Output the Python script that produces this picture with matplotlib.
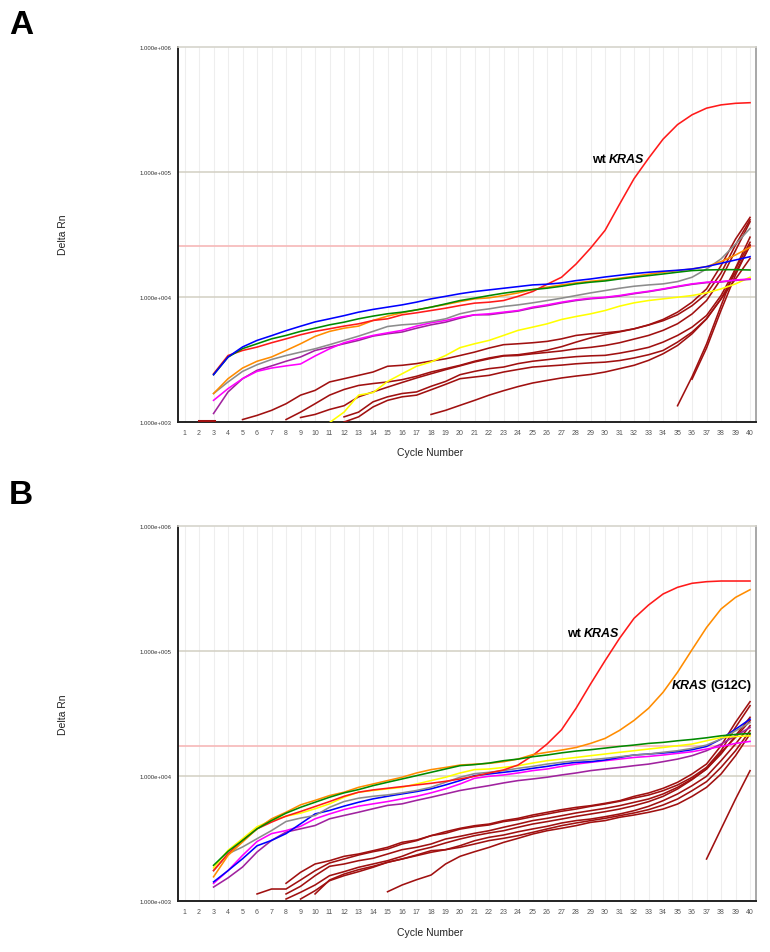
import numpy as np
import matplotlib
matplotlib.use('Agg')
import matplotlib.pyplot as plt
from matplotlib.ticker import FixedLocator, NullLocator

plt.rcParams['font.family'] = ['Liberation Sans', 'DejaVu Sans']

# Delta Rn, one value per cycle (start cycle given below)

# ---- panel A ----
blue_a = [2390, 3310, 3980, 4490, 4900, 5370, 5830, 6310, 6680, 7080, 7550, 7940, 8280, 8630, 9080, 9640, 10100, 10600, 11030,
          11370, 11720, 12080, 12460, 12620, 12930, 13490, 13900, 14420, 14880, 15350, 15730, 16030, 16320, 16710, 17450, 18540, 19720, 20950]
green_a = [2390, 3300, 3860, 4220, 4620, 4920, 5300, 5620, 5980, 6280, 6680, 7020, 7330, 7550, 7870, 8280, 8790, 9350, 9770,
           10240, 10700, 11100, 11430, 11730, 12160, 12700, 13100, 13400, 13900, 14350, 14790, 15240, 15740, 16220, 16410, 16500, 16500, 16400]
red_a = [2430, 3400, 3730, 3970, 4300, 4620, 4980, 5300, 5560, 5840, 6090, 6480, 6680, 7190, 7460, 7780, 8120, 8530, 8910,
         9070, 9350, 10100, 11030, 12600, 14350, 18300, 24500, 34000, 55000, 88000, 128000, 182000, 238000, 285000, 322000, 342000, 352000, 356000]
orange_a = [1690, 2220, 2700, 3060, 3310, 3730, 4220, 4830, 5300, 5620, 5840, 6480, 7020, 7460, 7870, 8280, 8690, 9180, 9640,
            9820, 10250, 10760, 11440, 11950, 12460, 12930, 13330, 13650, 14090, 14620, 15170, 15730, 16220, 16710, 17450, 19120, 21620, 24890]
grey_a = [1690, 2090, 2540, 2870, 3160, 3400, 3620, 3850, 4150, 4490, 4860, 5300, 5800, 5980, 6090, 6350, 6680, 7330, 7750,
          8020, 8380, 8630, 8960, 9350, 9760, 10250, 10760, 11230, 11720, 12160, 12460, 12700, 13250, 14350, 16710, 20100, 26400, 35200]
magenta_a = [1490, 1850, 2220, 2540, 2700, 2810, 2910, 3370, 3850, 4300, 4620, 4920, 5160, 5400, 5840, 6210, 6480, 6890, 7190,
             7320, 7550, 7780, 8280, 8630, 9070, 9460, 9760, 9940, 10250, 10700, 11090, 11580, 12160, 12700, 13100, 13250, 13650, 13900]
purple_a = [1170, 1740, 2220, 2590, 2810, 3060, 3310, 3730, 3970, 4220, 4490, 4860, 5070, 5240, 5620, 5980, 6280, 6760, 7190,
            7200, 7450, 7700, 8150, 8500, 8950, 9350, 9650, 9850, 10150, 10600, 11000, 11500, 12050, 12600, 13000, 13150, 13550, 13800]
yellow_a = [990, 1200, 1640, 1720, 2110, 2430, 2790, 3020, 3400, 3930, 4220,
            4490, 4920, 5400, 5730, 6090, 6600, 6970, 7320, 7780, 8430, 8960, 9350, 9640, 9940, 10250, 10760, 11580, 12700, 14350]
darkred_a0 = [1012, 1012]
darkred_a1 = [1047, 1130, 1240, 1400, 1640, 1790, 2090, 2220, 2360, 2510, 2790, 2840, 2930, 3070, 3200, 3400, 3620,
              3900, 4150, 4220, 4300, 4410, 4620, 4920, 5070, 5160, 5300, 5560, 5980, 6600, 7550, 9070, 11580, 17780, 28970, 43150]
darkred_a2 = [1047, 1200, 1400, 1640, 1820, 1960, 2030, 2090, 2180, 2320, 2510, 2670, 2840, 3060, 3250, 3400, 3450, 3580,
              3750, 4000, 4350, 4700, 5000, 5250, 5550, 5950, 6450, 7200, 8500, 10600, 15500, 26000, 41300]
darkred_a3 = [1087, 1150, 1260, 1350, 1590, 1740, 1900, 2070, 2250, 2430, 2620, 2810, 3020, 3200, 3370, 3400, 3510,
              3600, 3700, 3850, 3950, 4090, 4300, 4600, 4920, 5400, 6100, 7300, 9350, 13900, 23500, 39800]
darkred_a4 = [1100, 1200, 1450, 1590, 1690, 1740, 1930, 2110, 2390, 2540, 2670, 2750, 2930, 3060,
              3150, 3250, 3330, 3380, 3410, 3550, 3730, 3950, 4350, 4920, 5730, 7100, 10250, 16700, 27300]
darkred_a5 = [1000, 1100, 1320, 1490, 1590, 1640, 1810, 2000, 2220, 2290, 2360, 2510, 2630, 2750,
              2800, 2850, 2920, 2970, 3010, 3100, 3250, 3450, 3730, 4350, 5230, 6680, 9640, 15700, 25700]
darkred_a6 = [1150, 1240, 1360, 1490, 1640, 1780, 1920, 2050, 2150, 2250, 2330, 2400, 2510, 2670, 2840, 3110, 3510,
              4090, 5070, 6680, 9640, 13900, 20300]
darkred_a7 = [1350, 2300, 4200, 8500, 17000, 30000]
darkred_a8 = [2200, 3900, 7800, 15000, 26000]

# ---- panel B ----
green_b = [1940, 2510, 3070, 3800, 4430, 5070, 5650, 6200, 6800, 7370, 7830, 8420, 8960, 9520, 10120, 10760, 11440, 12160, 12400,
           12760, 13330, 13730, 14340, 14800, 15400, 15920, 16320, 16810, 17330, 17780, 18330, 18680, 19240, 19720, 20330, 21090, 21630, 22020]
orange_b = [1570, 2330, 2980, 3800, 4570, 5160, 5910, 6420, 7010, 7460, 8160, 8680, 9240, 9830, 10630, 11310, 11770, 12300, 12500,
            12700, 13090, 13730, 14890, 15560, 16210, 17000, 18330, 20090, 23300, 28000, 35000, 47000, 68000, 103000, 155000, 218000, 270000, 311000]
red_b = [1760, 2400, 3070, 3800, 4300, 4800, 5230, 5730, 6280, 6920, 7460, 7780, 8020, 8270, 8530, 8790, 9120, 9520, 10000,
         10630, 11240, 12310, 14620, 18110, 23570, 35000, 54750, 84100, 127000, 183600, 234500, 287300, 325000, 350000, 360500, 365000, 365000, 365000]
yellow_b = [1850, 2560, 3170, 3950, 4430, 4800, 5070, 5500, 6020, 6800, 7460, 7700, 7940, 8170, 8680, 9240, 9830, 10630, 11310,
            11440, 11770, 12160, 12760, 13330, 13730, 14150, 14620, 15070, 15560, 16020, 16520, 17000, 17550, 18110, 19240, 20460, 20800, 21090]
grey_b = [1760, 2400, 2720, 3170, 3680, 4350, 4630, 4860, 5650, 6280, 6680, 6920, 7100, 7370, 7700, 8170, 8960, 9830, 10500,
          10760, 11100, 11580, 12000, 12520, 12930, 13330, 13570, 13910, 14340, 14800, 15070, 15560, 16020, 16720, 17780, 19860, 23120, 26920]
blue_b = [1430, 1760, 2190, 2780, 3070, 3480, 4170, 5000, 5330, 5770, 6200, 6600, 6920, 7230, 7550, 7940, 8530, 9240, 10120,
          10440, 10760, 11100, 11580, 12000, 12520, 12930, 13090, 13500, 14150, 14800, 15070, 15360, 15730, 16320, 17330, 19860, 23800, 28650]
magenta_b = [1390, 1760, 2330, 3010, 3480, 3680, 3980, 4570, 5000, 5420, 5770, 6020, 6280, 6600, 6920, 7370, 7940, 8680, 9640,
             10000, 10250, 10630, 11100, 11440, 12000, 12520, 12930, 13330, 13730, 14150, 14420, 14800, 15260, 15730, 16520, 17330, 18330, 19020]
purple_b = [1300, 1540, 1880, 2480, 3070, 3580, 3800, 4040, 4570, 4860, 5160, 5500, 5850, 6020, 6420, 6800, 7230, 7700, 8060,
            8420, 8850, 9240, 9520, 9830, 10250, 10630, 11100, 11440, 11770, 12160, 12520, 13090, 13730, 14620, 16020, 18110, 21090, 24560]
darkred_b1 = [1145, 1254, 1254, 1480, 1757, 2025, 2180, 2346, 2493, 2620, 2873, 3054, 3350, 3605, 3835, 4025,
              4150, 4420, 4610, 4900, 5150, 5410, 5640, 5820, 6080, 6380, 6910, 7350, 8010, 8950, 10430, 12540, 17580, 27030, 39540]
darkred_b2 = [1393, 1706, 1988, 2113, 2290, 2390, 2540, 2704, 2964, 3093, 3350, 3500, 3780, 3950,
              4080, 4340, 4500, 4750, 4990, 5250, 5470, 5750, 6000, 6310, 6700, 7080, 7670, 8520, 9810, 11790, 16030, 24640, 36730]
darkred_b3 = [1145, 1318, 1603, 1905, 1988, 2113, 2208, 2390, 2588, 2704, 2873, 3150, 3311, 3500,
              3670, 3910, 4150, 4420, 4610, 4840, 5090, 5310, 5540, 5820, 6190, 6580, 7220, 8160, 9520, 11440, 15070, 21130, 29650]
darkred_b4 = [1043, 1180, 1350, 1603, 1726, 1871, 1988, 2113, 2290, 2540, 2704, 2929, 3150, 3350,
              3520, 3670, 3910, 4150, 4340, 4550, 4780, 4990, 5210, 5470, 5820, 6270, 6910, 7920, 9400, 11440, 15540, 20490, 27860]
darkred_b5 = [1043, 1216, 1462, 1603, 1726, 1871, 2051, 2180, 2346, 2540, 2588, 2786, 3050,
              3250, 3390, 3600, 3790, 3980, 4230, 4420, 4550, 4750, 4990, 5310, 5750, 6380, 7220, 8410, 10000, 13330, 18130, 25420]
darkred_b6 = [1145, 1480, 1652, 1790, 1905, 2051, 2180, 2317, 2466, 2588, 2704, 2873,
              3060, 3190, 3350, 3560, 3790, 4030, 4230, 4420, 4610, 4840, 5090, 5410, 5890, 6580, 7670, 9060, 11790, 16030, 23170]
darkred_b7 = [1193, 1350, 1488, 1622, 1988, 2290, 2493,
              2700, 2960, 3190, 3450, 3670, 3840, 4030, 4280, 4420, 4700, 4900, 5150, 5470, 6000, 6910, 8160, 10430, 14620, 21790]
darkred_b8 = [2180, 3790, 6580, 11090]

cycles = np.arange(1, 41)
y_ticks = [1e3, 1e4, 1e5, 1e6]
y_tick_labels = ['1.000e+003', '1.000e+004', '1.000e+005', '1.000e+006']
threshold_a = 25500
threshold_b = 17400

DARKRED = '#a01010'
BLUE = '#0000ff'
GREEN = '#008a00'
RED = '#ff1a1a'
ORANGE = '#ff8c00'
GREY = '#8c8c8c'
MAGENTA = '#ff00ff'
PURPLE = '#a0229f'
YELLOW = '#ffff00'

# (start cycle, values, colour) -- drawn in this order
curves_a = [
    (2, darkred_a0, DARKRED), (5, darkred_a1, DARKRED), (8, darkred_a2, DARKRED), (9, darkred_a3, DARKRED),
    (12, darkred_a4, DARKRED), (12, darkred_a5, DARKRED), (18, darkred_a6, DARKRED), (35, darkred_a7, DARKRED),
    (36, darkred_a8, DARKRED),
    (11, yellow_a, YELLOW), (3, purple_a, PURPLE), (3, magenta_a, MAGENTA), (3, grey_a, GREY),
    (3, orange_a, ORANGE), (3, red_a, RED), (3, green_a, GREEN), (3, blue_a, BLUE),
]
curves_b = [
    (6, darkred_b1, DARKRED), (8, darkred_b2, DARKRED), (8, darkred_b3, DARKRED), (8, darkred_b4, DARKRED),
    (9, darkred_b5, DARKRED), (10, darkred_b6, DARKRED), (15, darkred_b7, DARKRED), (37, darkred_b8, DARKRED),
    (3, purple_b, PURPLE), (3, magenta_b, MAGENTA), (3, blue_b, BLUE), (3, grey_b, GREY),
    (3, yellow_b, YELLOW), (3, red_b, RED), (3, orange_b, ORANGE), (3, green_b, GREEN),
]


def draw_panel(ax, curves, threshold):
    ax.set_yscale('log')
    ax.set_xlim(0.55, 40.41)
    ax.set_ylim(1e3, 1e6)

    for c in cycles:
        ax.axvline(c, color='#eeeeee', lw=0.8, zorder=0)
    for v in y_ticks[1:3]:
        ax.axhline(v, color='#d2cfc2', lw=1.1, zorder=1)
    ax.axhline(threshold, color='#f6b8b8', lw=1.2, zorder=1)

    for start, vals, col in curves:
        x = np.arange(start, start + len(vals))
        lw = 2.2 if len(vals) == 2 else 1.15
        ax.plot(x, vals, color=col, lw=lw, zorder=3, solid_joinstyle='round')

    ax.xaxis.set_major_locator(FixedLocator(cycles))
    ax.set_xticklabels([str(c) for c in cycles], fontsize=5, color='#555555')
    ax.yaxis.set_major_locator(FixedLocator(y_ticks))
    ax.yaxis.set_minor_locator(NullLocator())
    ax.set_yticklabels(y_tick_labels, fontsize=4.3, color='#333333')
    ax.tick_params(axis='both', length=0)
    ax.tick_params(axis='x', pad=5)
    ax.tick_params(axis='y', pad=4.5)

    ax.spines['left'].set_color('#222222')
    ax.spines['left'].set_linewidth(1.4)
    ax.spines['bottom'].set_color('#222222')
    ax.spines['bottom'].set_linewidth(1.4)
    ax.spines['top'].set_color('#d6d4cc')
    ax.spines['top'].set_linewidth(1.2)
    ax.spines['right'].set_color('#9a9a9a')
    ax.spines['right'].set_linewidth(1.2)


def two_part_label(ax, x, y, first, second, first_style, second_style):
    t = ax.text(x, y, first, fontsize=9, fontweight='bold', style=first_style,
                ha='left', va='baseline', zorder=5)
    ax.annotate(second, xy=(1, 0), xycoords=t, xytext=(2.4, 0), textcoords='offset points',
                fontsize=9, fontweight='bold', style=second_style, ha='left', va='bottom', zorder=5)


fig = plt.figure(figsize=(7.7, 9.53), dpi=100)
ax_a = fig.add_axes([0.2312, 0.5561, 0.7506, 0.394])
ax_b = fig.add_axes([0.2312, 0.0532, 0.7506, 0.3935])

draw_panel(ax_a, curves_a, threshold_a)
draw_panel(ax_b, curves_b, threshold_b)

two_part_label(ax_a, 29.08, 119000, 'wt', 'KRAS', 'normal', 'italic')
two_part_label(ax_b, 27.36, 132600, 'wt', 'KRAS', 'normal', 'italic')
two_part_label(ax_b, 34.62, 51300, 'KRAS', '(G12C)', 'italic', 'normal')

for yc in (235, 715):
    fig.text(63 / 770, 1 - yc / 953, 'Delta Rn', rotation=90, fontsize=7.5,
             ha='center', va='center', color='#222222')
for yc in (453, 933):
    fig.text(430 / 770, 1 - yc / 953, 'Cycle Number', fontsize=7.5,
             ha='center', va='center', color='#222222')

fig.text(21 / 770, 1 - 26 / 953, 'A', fontsize=24, fontweight='bold', ha='center', va='center')
fig.text(21 / 770, 1 - 496 / 953, 'B', fontsize=24, fontweight='bold', ha='center', va='center')

fig.savefig('out.png', dpi=100)
